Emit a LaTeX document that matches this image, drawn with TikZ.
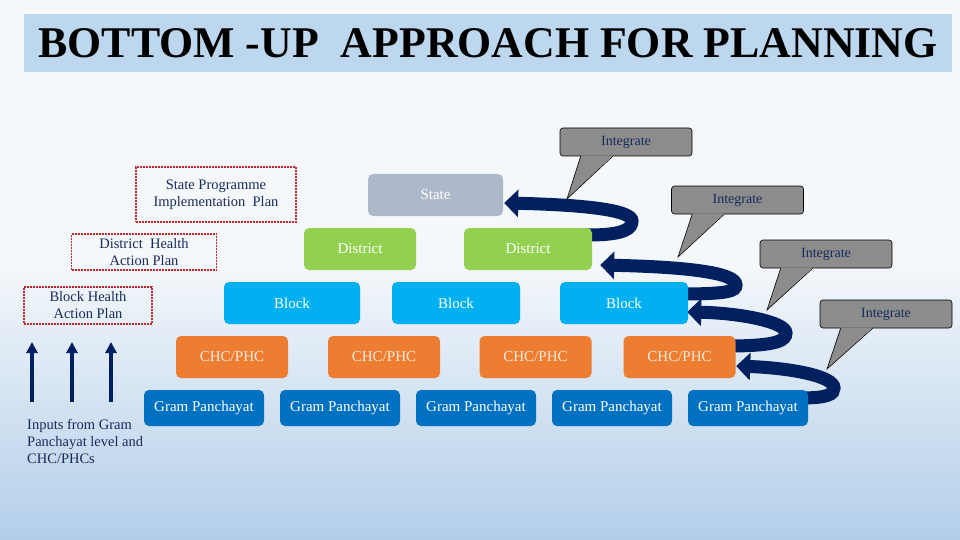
\documentclass[tikz,border=0pt]{standalone}
\usepackage{fontspec}
\setmainfont{Liberation Serif}
\usetikzlibrary{arrows.meta,calc}
\pgfdeclarelayer{bg}
\pgfdeclarelayer{loops}
\pgfsetlayers{bg,loops,main}
\definecolor{navy}{HTML}{002060}
\definecolor{txtnavy}{HTML}{172B5A}
\definecolor{bgtop}{HTML}{F5F8FB}
\definecolor{bgbot}{HTML}{B3CEE9}
\definecolor{titlebg}{HTML}{BDD7EE}
\definecolor{statec}{HTML}{ADB9CA}
\definecolor{distc}{HTML}{92D050}
\definecolor{blockc}{HTML}{00B0F0}
\definecolor{chcc}{HTML}{ED7D31}
\definecolor{gpc}{HTML}{0070C0}
\definecolor{calgray}{HTML}{8C8C8C}
\definecolor{planred}{HTML}{C0282D}
\definecolor{chctext}{HTML}{FDEBDD}
\begin{document}
\begin{tikzpicture}[x=1pt,y=-1pt,
  lvl/.style={rounded corners=5pt, inner sep=0pt, minimum height=42pt, text=white,
    font=\fontsize{15}{17}\selectfont},
  statebox/.style={lvl, fill=statec, minimum width=135pt},
  distbox/.style={lvl, fill=distc},
  blockbox/.style={lvl, fill=blockc},
  chcbox/.style={lvl, fill=chcc, minimum width=112pt, text=chctext},
  gpbox/.style={lvl, fill=gpc, minimum width=120pt, minimum height=36pt},
  planbox/.style={draw=planred, dash pattern=on 2pt off 1pt, line width=1.4pt, inner sep=0pt,
    align=center, text=txtnavy, font=\fontsize{14.5}{17}\selectfont},
  callbox/.style={fill=calgray, draw=black, line width=0.6pt, rounded corners=3pt,
    minimum width=132pt, minimum height=28pt, inner sep=0pt, text=txtnavy,
    font=\fontsize{14}{16}\selectfont},
  loop/.style={draw=navy, line width=13pt, -{Triangle[length=14pt,width=27pt]}},
  uparrow/.style={draw=navy, line width=4pt, -{Triangle[length=11pt,width=11pt]}},
  label/.style={align=left, text=txtnavy, inner sep=0pt, font=\fontsize{14.5}{17}\selectfont}
]
\useasboundingbox (0,0) rectangle (960,540);
% background
\begin{pgfonlayer}{bg}
\fill[bgtop] (0,0) rectangle (960,262);
\shade[top color=bgtop, bottom color=bgbot] (0,260) rectangle (960,540);
\end{pgfonlayer}

% title
\node[fill=titlebg, minimum width=928pt, minimum height=58pt, inner sep=0pt] (title) at (488,43)
  {\resizebox{899pt}{29pt}{\bfseries BOTTOM -UP\ \ APPROACH FOR PLANNING}};

% level boxes
\node[statebox] (state) at (435.5,195) {State};
\node[distbox, minimum width=112pt] (d1) at (360,249) {District};
\node[distbox, minimum width=128pt] (d2) at (528,249) {District};
\node[blockbox, minimum width=136pt] (b1) at (292,303) {Block};
\node[blockbox, minimum width=128pt] (b2) at (456,303) {Block};
\node[blockbox, minimum width=128pt] (b3) at (624,303) {Block};
\node[chcbox] (c1) at (232,357) {CHC/PHC};
\node[chcbox] (c2) at (384,357) {CHC/PHC};
\node[chcbox] (c3) at (535.5,357) {CHC/PHC};
\node[chcbox] (c4) at (679.5,357) {CHC/PHC};
\foreach \i/\x in {1/204,2/340,3/476,4/612,5/748}
  \node[gpbox] (g\i) at (\x,408) {Gram Panchayat};

% curved integration arrows, behind the boxes
\begin{pgfonlayer}{loops}
\draw[loop] ($(d2.east)+(-4,-14)$) .. controls (626,235) and (632,228) .. (632,221)
   .. controls (632,211) and (592,205) .. ($(state.east)+(1,8)$);
\draw[loop] ($(b3.east)+(-8,-9)$) .. controls (729,294) and (736,291) .. (736,285)
   .. controls (736,273) and (690,267) .. ($(d2.east)+(8,16)$);
\draw[loop] ($(c4.east)+(-8,-11)$) .. controls (779,346) and (786,340) .. (786,333)
   .. controls (786,322) and (740,313) .. ($(b3.east)+(-1,9)$);
\draw[loop] ($(g5.east)+(-8,-10)$) .. controls (829,398) and (834,394) .. (834,388)
   .. controls (834,376) and (790,368) .. ($(c4.east)+(0.5,9)$);
\end{pgfonlayer}

% plan labels
\node[planbox, minimum width=160pt, minimum height=55pt] (spip) at (216,194.5)
  {State Programme\\Implementation\ \ Plan};
\node[planbox, minimum width=145pt, minimum height=36pt] (dhap) at (144,252)
  {District\ \ Health\\Action Plan};
\node[planbox, minimum width=128pt, minimum height=37pt] (bhap) at (88,305.5)
  {Block Health\\Action Plan};

% callouts
\node[callbox] (int1) at (626,142) {Integrate};
\node[callbox] (int2) at (737.5,200) {Integrate};
\node[callbox] (int3) at (826,254) {Integrate};
\node[callbox] (int4) at (886,314) {Integrate};
\coordinate (tip1) at (567,199);
\coordinate (tip2) at (678,257);
\coordinate (tip3) at (767,310);
\coordinate (tip4) at (827,369);
\foreach \n in {1,...,4}{
  \fill[calgray] ($(int\n.south west)+(21,-1)$) -- (tip\n) -- ($(int\n.south west)+(53,-1)$) -- cycle;
  \draw[black, line width=0.6pt, line join=miter] ($(int\n.south west)+(21,0)$) -- (tip\n) -- ($(int\n.south west)+(53,0)$);
}

% upward input arrows
\coordinate (u1b) at (32,402); \coordinate (u1t) at (32,342);
\coordinate (u2b) at (72,402); \coordinate (u2t) at (72,342);
\coordinate (u3b) at (111,402); \coordinate (u3t) at (111,342);
\draw[uparrow] (u1b) -- (u1t);
\draw[uparrow] (u2b) -- (u2t);
\draw[uparrow] (u3b) -- (u3t);

\node[label, anchor=north west] (inputs) at (27,419)
  {Inputs from Gram\\Panchayat level and\\CHC/PHCs};
\end{tikzpicture}
\end{document}
